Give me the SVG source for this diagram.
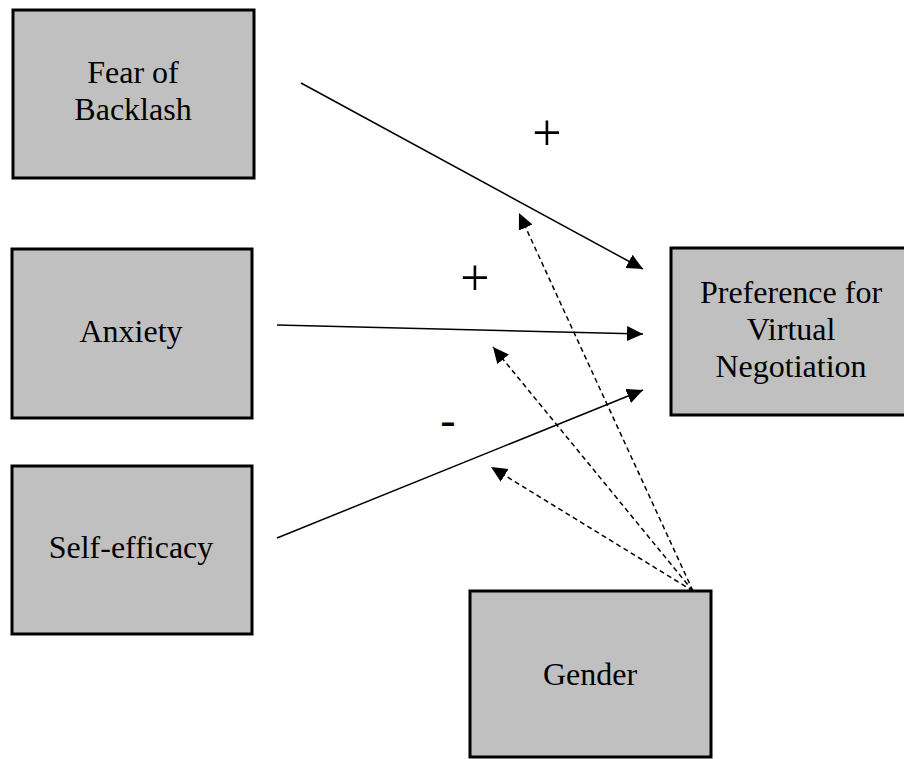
<svg xmlns="http://www.w3.org/2000/svg" width="904" height="759" viewBox="0 0 904 759">
<style>
.box{fill:#c0c0c0;stroke:#000;stroke-width:3}
.t{font-family:'Liberation Serif','Times New Roman',serif;font-size:32px;fill:#000;text-anchor:middle}
.s{font-family:'Liberation Serif','Times New Roman',serif;font-size:52px;fill:#000;text-anchor:middle}
.c{stroke:#000;stroke-width:1.5;fill:none}
.d{stroke:#000;stroke-width:1.5;fill:none;stroke-dasharray:5,3.5}
</style>
<defs>
<marker id="ah" markerUnits="userSpaceOnUse" markerWidth="18" markerHeight="16" refX="16" refY="7.5" orient="auto">
<path d="M0,0 L16,7.5 L0,15 Z" fill="#000"/>
</marker>
</defs>
<rect width="904" height="759" fill="#fff"/>
<g id="fear">
<rect class="box" x="13" y="10" width="241" height="168"/>
<text class="t" x="133" y="83">Fear of</text>
<text class="t" x="133" y="120">Backlash</text>
</g>
<g id="anxiety">
<rect class="box" x="12" y="249" width="240" height="169"/>
<text class="t" x="131" y="342">Anxiety</text>
</g>
<g id="selfefficacy">
<rect class="box" x="12" y="466" width="240" height="168"/>
<text class="t" x="131" y="558">Self-efficacy</text>
</g>
<g id="preference">
<rect class="box" x="671" y="248" width="240" height="167"/>
<text class="t" x="791" y="303">Preference for</text>
<text class="t" x="791" y="340">Virtual</text>
<text class="t" x="791" y="377">Negotiation</text>
</g>
<g id="gender">
<rect class="box" x="470" y="591" width="241" height="166"/>
<text class="t" x="590" y="685">Gender</text>
</g>
<g id="connectors">
<line class="c" x1="301" y1="83" x2="643" y2="269" marker-end="url(#ah)"/>
<line class="c" x1="277" y1="325" x2="643" y2="334" marker-end="url(#ah)"/>
<line class="c" x1="277" y1="538" x2="643" y2="390" marker-end="url(#ah)"/>
<line class="d" x1="693" y1="591" x2="519" y2="213" marker-end="url(#ah)"/>
<line class="d" x1="693" y1="591" x2="493" y2="347" marker-end="url(#ah)"/>
<line class="d" x1="693" y1="591" x2="491" y2="467" marker-end="url(#ah)"/>
</g>
<g id="labels">
<text class="s" x="547" y="150">+</text>
<text class="s" x="475" y="295">+</text>
<text class="s" x="448" y="435" style="font-size:46px">-</text>
</g>
</svg>
